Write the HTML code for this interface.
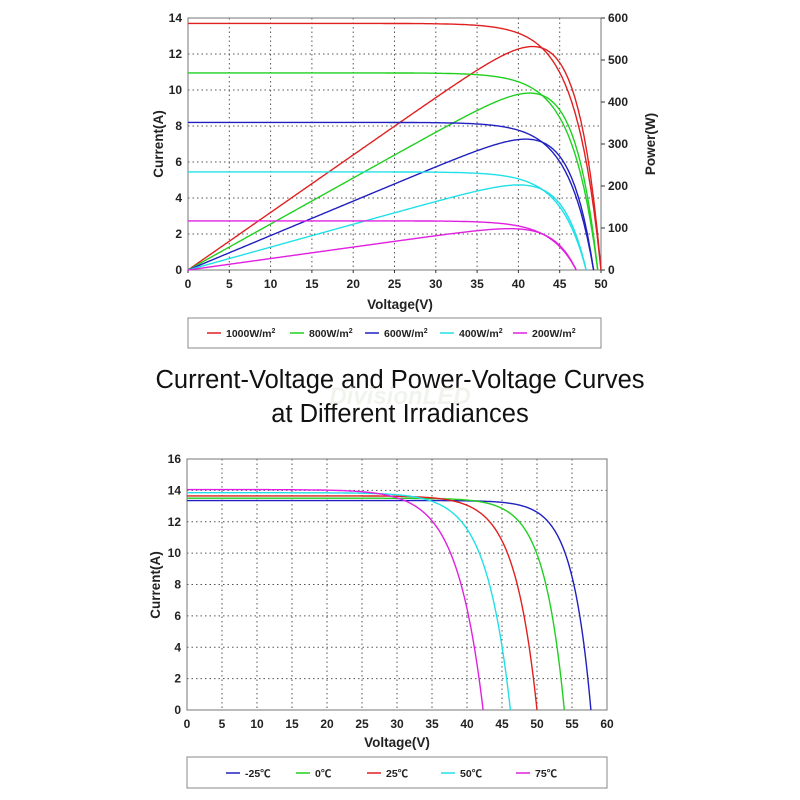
<!DOCTYPE html>
<html><head><meta charset="utf-8"><style>
body{margin:0;background:#fff;width:800px;height:800px;overflow:hidden}
svg{position:absolute;left:0;top:0}
text{font-family:"Liberation Sans",Arial,sans-serif}
.t{font-size:12px;font-weight:bold;fill:#222}
.a{font-size:13.5px;font-weight:bold;fill:#222}
.l{font-size:10.5px;font-weight:bold;fill:#222}
.g{stroke:#555;stroke-width:1;stroke-dasharray:1.5,3}
</style></head><body>
<svg id="s" width="800" height="800" xmlns="http://www.w3.org/2000/svg">
<text x="400" y="388" text-anchor="middle" style="font-size:25.5px;fill:#111">Current-Voltage and Power-Voltage Curves</text>
<text x="400" y="422" text-anchor="middle" style="font-size:25.5px;fill:#111">at Different Irradiances</text>
<text x="400" y="404" text-anchor="middle" style="font-size:24px;font-weight:bold;font-style:italic;fill:#e8eee0;opacity:0.6">DivisionLED</text>
<g id="top"></g><g id="bot"></g>
</svg>
<script>
var NS="http://www.w3.org/2000/svg";
function el(p,n,a,txt){var e=document.createElementNS(NS,n);for(var k in a)e.setAttribute(k,a[k]);if(txt!==undefined)e.textContent=txt;p.appendChild(e);return e;}
function I(V,isc,voc,c){return isc*(1-(Math.exp(V/c)-1)/(Math.exp(voc/c)-1));}
var T=document.getElementById('top');
var x0=188,x1=601,y0=270,y1=18;
function tx(v){return x0+v*(x1-x0)/50}function ty(i){return y0-i*(y0-y1)/14}function tp(p){return y0-p*(y0-y1)/600}
for(var v=5;v<50;v+=5)el(T,'line',{x1:tx(v),x2:tx(v),y1:y1,y2:y0,'class':'g'});
for(var i=2;i<14;i+=2)el(T,'line',{x1:x0,x2:x1,y1:ty(i),y2:ty(i),'class':'g'});
el(T,'rect',{x:x0,y:y1,width:x1-x0,height:y0-y1,fill:'none',stroke:'#777'});
for(var v=0;v<=50;v+=5){el(T,'text',{x:tx(v),y:y0+18,'text-anchor':'middle','class':'t'},v);el(T,'line',{x1:tx(v),x2:tx(v),y1:y0,y2:y0+3,stroke:'#333'});}
for(var i=0;i<=14;i+=2){el(T,'text',{x:x0-6,y:ty(i)+4,'text-anchor':'end','class':'t'},i);}
for(var p=0;p<=600;p+=100){el(T,'text',{x:x1+7,y:tp(p)+4,'class':'t'},p);el(T,'line',{x1:x1,x2:x1+4,y1:tp(p),y2:tp(p),stroke:'#333'});}
el(T,'text',{x:400,y:309,'text-anchor':'middle','class':'a'},'Voltage(V)');
el(T,'text',{x:163,y:144,'text-anchor':'middle','class':'a',transform:'rotate(-90 163 144)'},'Current(A)');
el(T,'text',{x:655,y:144,'text-anchor':'middle','class':'a',transform:'rotate(-90 655 144)'},'Power(W)');
var ser=[[13.7,50,'#e02020','1000'],[10.95,49.6,'#20d020','800'],[8.2,49.1,'#2020c0','600'],[5.45,48.2,'#20e0e8','400'],[2.73,47,'#e020e0','200']];
ser.forEach(function(s,k){var a='',b='';for(var v=0;v<=s[1]+0.001;v+=0.1){var vv=Math.min(v,s[1]);var c=I(vv,s[0],s[1],3.1);a+=(a?'L':'M')+tx(vv).toFixed(1)+','+ty(c).toFixed(1);b+=(b?'L':'M')+tx(vv).toFixed(1)+','+tp(c*vv).toFixed(1);}
el(T,'path',{d:a,fill:'none',stroke:s[2],'stroke-width':1.4});el(T,'path',{d:b,fill:'none',stroke:s[2],'stroke-width':1.4});
var lx=[207,290,365,440,513][k];el(T,'line',{x1:lx,x2:lx+14,y1:333,y2:333,stroke:s[2],'stroke-width':1.5});
var t=el(T,'text',{x:lx+19,y:337,'class':'l'},s[3]+'W/m');el(t,'tspan',{dy:-4,style:'font-size:7px'},'2');});
el(T,'rect',{x:188,y:318,width:413,height:30,fill:'none',stroke:'#888'});
var B=document.getElementById('bot');
var bx0=187,bx1=607,by0=710,by1=459;
function bx(v){return bx0+v*(bx1-bx0)/60}function by(i){return by0-i*(by0-by1)/16}
for(var v=5;v<60;v+=5)el(B,'line',{x1:bx(v),x2:bx(v),y1:by1,y2:by0,'class':'g'});
for(var i=2;i<16;i+=2)el(B,'line',{x1:bx0,x2:bx1,y1:by(i),y2:by(i),'class':'g'});
el(B,'rect',{x:bx0,y:by1,width:bx1-bx0,height:by0-by1,fill:'none',stroke:'#777'});
for(var v=0;v<=60;v+=5){el(B,'text',{x:bx(v),y:by0+18,'text-anchor':'middle','class':'t'},v);}
for(var i=0;i<=16;i+=2){el(B,'text',{x:bx0-6,y:by(i)+4,'text-anchor':'end','class':'t'},i);}
el(B,'text',{x:397,y:747,'text-anchor':'middle','class':'a'},'Voltage(V)');
el(B,'text',{x:160,y:585,'text-anchor':'middle','class':'a',transform:'rotate(-90 160 585)'},'Current(A)');
var bs=[[13.35,57.7,'#2020c0','-25℃',-25],[13.5,53.9,'#20d020','0℃',0],[13.65,50,'#e02020','25℃',25],[13.85,46.2,'#20e0e8','50℃',50],[14.05,42.3,'#e020e0','75℃',75]];
bs.forEach(function(s,k){var a='';var c=3.2*(s[4]+273)/298;for(var v=0;v<=s[1]+0.001;v+=0.1){var vv=Math.min(v,s[1]);a+=(a?'L':'M')+bx(vv).toFixed(1)+','+by(I(vv,s[0],s[1],c)).toFixed(1);}
el(B,'path',{d:a,fill:'none',stroke:s[2],'stroke-width':1.4});
var lx=[226,296,367,441,516][k];el(B,'line',{x1:lx,x2:lx+14,y1:773,y2:773,stroke:s[2],'stroke-width':1.5});
el(B,'text',{x:lx+19,y:777,'class':'l',style:'font-family:\"Liberation Sans\",\"Noto Sans CJK SC\",sans-serif'},s[3]);});
el(B,'rect',{x:187,y:757,width:420,height:31,fill:'none',stroke:'#888'});
</script>
</body></html>
